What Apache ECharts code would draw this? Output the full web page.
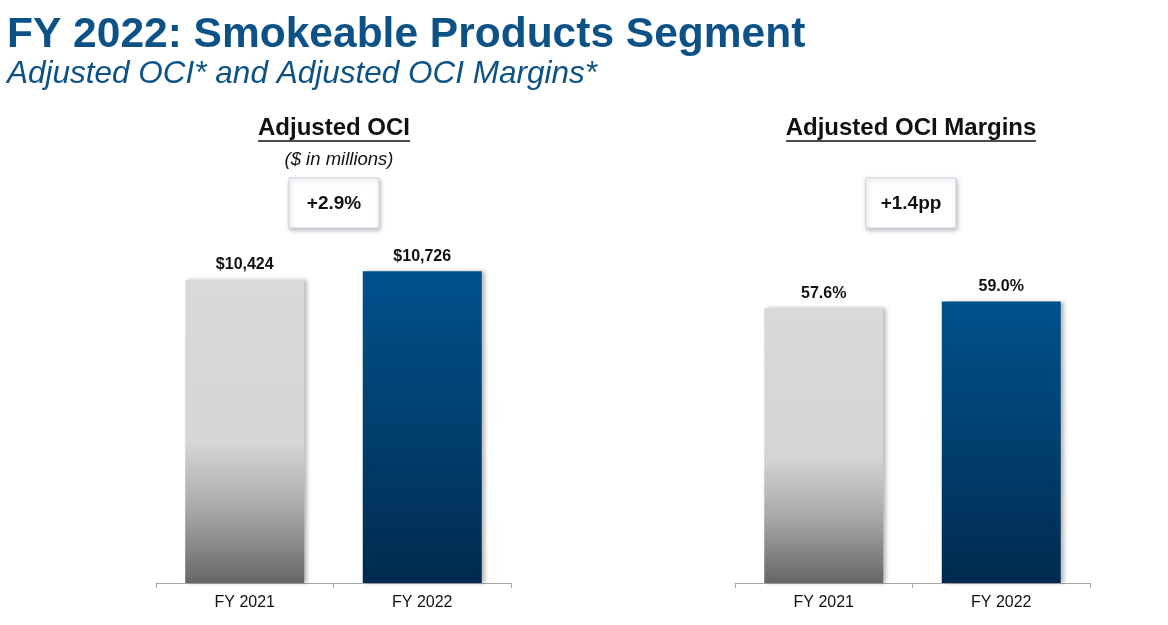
<!DOCTYPE html>
<html>
<head>
<meta charset="utf-8">
<script src="https://cdn.jsdelivr.net/npm/echarts@6/dist/echarts.min.js"></script>
<style>
  html, body { margin: 0; padding: 0; background: #fff; }
  #chart { width: 1168px; height: 625px; }
</style>
</head>
<body>
<div id="chart"></div>
<script>
var categories = ['FY 2021', 'FY 2022'];
var ociValues = [10424, 10726];
var marginValues = [57.6, 59.0];
var ociChange = '+2.9%';
var marginChange = '+1.4pp';

var FONT = '"Liberation Sans", Arial, sans-serif';
var TITLE_BLUE = '#0d5286';

var grayFill = new echarts.graphic.LinearGradient(0, 0, 0, 1, [
  { offset: 0, color: '#d9d9d9' },
  { offset: 0.54, color: '#d5d5d5' },
  { offset: 0.76, color: '#a8a8a8' },
  { offset: 1, color: '#666666' }
]);
var blueFill = new echarts.graphic.LinearGradient(0, 0, 0, 1, [
  { offset: 0, color: '#00518c' },
  { offset: 0.5, color: '#00406f' },
  { offset: 1, color: '#002a4f' }
]);

function barData(values) {
  var fills = [grayFill, blueFill];
  return values.map(function (v, i) {
    return { value: v, itemStyle: { color: fills[i] } };
  });
}

function changeBox(cx, text) {
  return {
    type: 'group',
    children: [{
      type: 'rect',
      shape: { x: cx - 45, y: 178, width: 90, height: 50 },
      style: {
        fill: '#fff', stroke: '#d0d5dc', lineWidth: 1,
        shadowColor: 'rgba(60,70,90,0.35)', shadowBlur: 4, shadowOffsetX: 1, shadowOffsetY: 2
      }
    }, {
      type: 'text',
      style: {
        x: cx, y: 204, text: text, align: 'center', verticalAlign: 'middle',
        font: 'bold 19px ' + FONT, fill: '#111'
      }
    }]
  };
}

function header(cx, text, halfWidth) {
  return [{
    type: 'text',
    style: {
      x: cx, y: 128, text: text, align: 'center', verticalAlign: 'middle',
      font: 'bold 24px ' + FONT, fill: '#111'
    }
  }, {
    type: 'line',
    shape: { x1: cx - halfWidth, y1: 141, x2: cx + halfWidth, y2: 141 },
    style: { stroke: '#111', lineWidth: 1.5 }
  }];
}

var chart = echarts.init(document.getElementById('chart'));

var xAxisBase = {
  type: 'category',
  data: categories,
  axisLine: { lineStyle: { color: '#a6a6a6', width: 1 } },
  axisTick: { show: true, length: 5, alignWithLabel: false, lineStyle: { color: '#a6a6a6' } },
  axisLabel: { color: '#111', fontSize: 16, fontFamily: FONT, margin: 12 }
};

var labelBase = {
  show: true,
  position: 'top',
  distance: 7,
  color: '#111',
  fontSize: 16,
  fontWeight: 'bold',
  fontFamily: FONT
};

var barStyle = {
  shadowColor: 'rgba(0,0,0,0.28)',
  shadowBlur: 4,
  shadowOffsetX: 3,
  shadowOffsetY: 0
};

var option = {
  backgroundColor: '#fff',
  animation: false,
  title: [{
    text: 'FY 2022: Smokeable Products Segment',
    left: 2, top: 9,
    textStyle: { color: TITLE_BLUE, fontSize: 42.5, fontWeight: 'bold', fontFamily: FONT }
  }, {
    text: 'Adjusted OCI* and Adjusted OCI Margins*',
    left: 2, top: 53,
    textStyle: { color: TITLE_BLUE, fontSize: 31.5, fontStyle: 'italic', fontWeight: 'normal', fontFamily: FONT }
  }, {
    text: '($ in millions)',
    left: 334, top: 145, textAlign: 'center',
    textStyle: { color: '#111', fontSize: 18.5, fontStyle: 'italic', fontWeight: 'normal', fontFamily: FONT }
  }],
  grid: [
    { left: 156, width: 355, top: 147, bottom: 42 },
    { left: 735, width: 355, top: 106, bottom: 42 }
  ],
  xAxis: [
    Object.assign({ gridIndex: 0 }, xAxisBase),
    Object.assign({ gridIndex: 1 }, xAxisBase)
  ],
  yAxis: [
    { type: 'value', gridIndex: 0, min: 0, max: 15000, show: false, splitLine: { show: false } },
    { type: 'value', gridIndex: 1, min: 0, max: 100, show: false, splitLine: { show: false } }
  ],
  series: [{
    type: 'bar',
    name: 'Adjusted OCI',
    xAxisIndex: 0, yAxisIndex: 0,
    barWidth: 119,
    data: barData(ociValues),
    itemStyle: barStyle,
    label: Object.assign({}, labelBase, {
      formatter: function (p) { return '$' + p.value.toLocaleString('en-US'); }
    })
  }, {
    type: 'bar',
    name: 'Adjusted OCI Margins',
    xAxisIndex: 1, yAxisIndex: 1,
    barWidth: 119,
    data: barData(marginValues),
    itemStyle: barStyle,
    label: Object.assign({}, labelBase, {
      formatter: function (p) { return p.value.toFixed(1) + '%'; }
    })
  }],
  graphic: header(334, 'Adjusted OCI', 76)
    .concat(header(911, 'Adjusted OCI Margins', 125))
    .concat([changeBox(334, ociChange), changeBox(911, marginChange)])
};

chart.setOption(option);
</script>
</body>
</html>
